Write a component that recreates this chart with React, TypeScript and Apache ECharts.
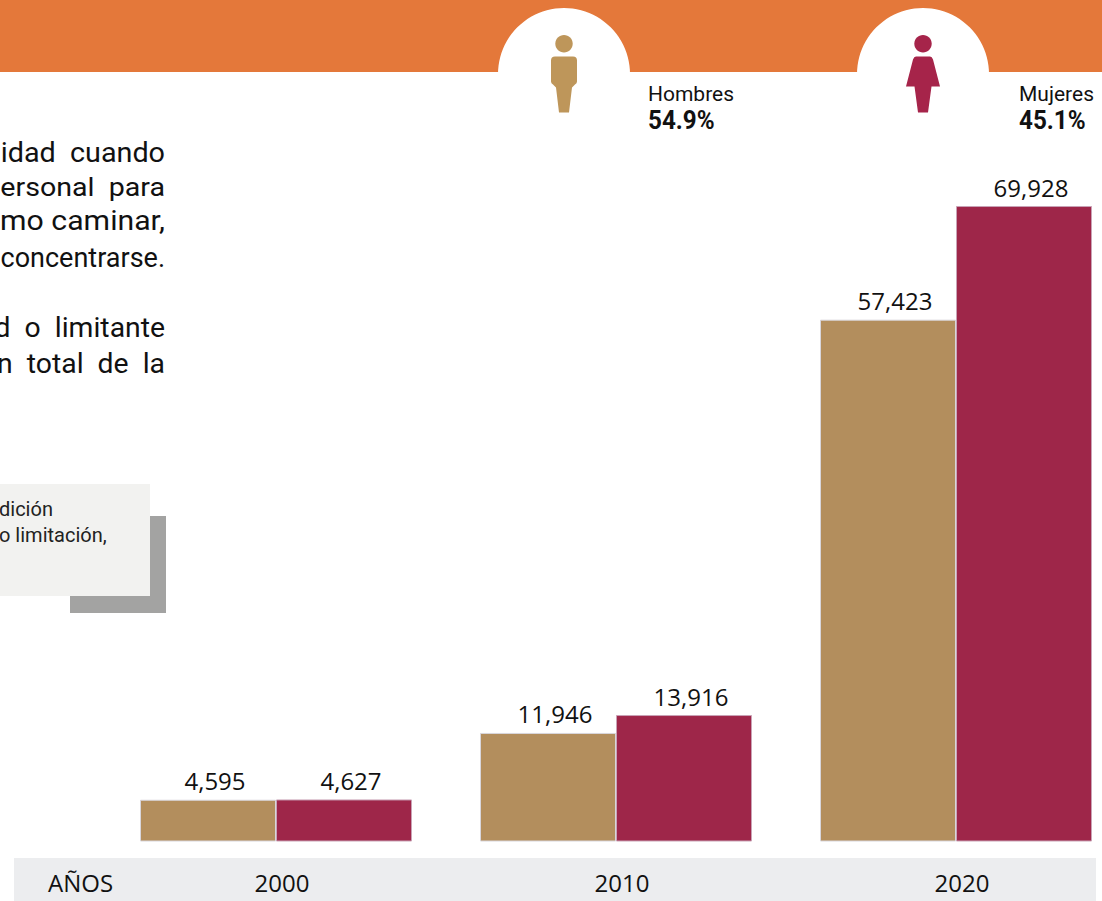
import React, { useEffect, useRef } from "react";
import * as echarts from "echarts";

const years = ["2000", "2010", "2020"];
const hombres = [4595, 11946, 57423];
const mujeres = [4627, 13916, 69928];
const bodyLines = [
  { t: "idad\u00a0\u00a0cuando", y: 153, s: 27, k: 1.065 },
  { t: "ersonal\u00a0\u00a0para", y: 187, s: 26, k: 1.1 },
  { t: "mo\u00a0caminar,", y: 221, s: 27, k: 1.12 },
  { t: "concentrarse.", y: 258, s: 27, k: 1 },
  { t: "d\u00a0\u00a0o\u00a0\u00a0limitante", y: 328, s: 27, k: 1.05 },
  { t: "n\u00a0\u00a0total\u00a0\u00a0de\u00a0\u00a0la", y: 364, s: 27, k: 1.05 },
];
const noteLines = [
  { t: "dición", y: 509 },
  { t: "o limitación,", y: 535 },
];

const manPath = "M4 0 H22 Q26 0 26 4 V25 Q26 27 24 28 L21 31 L18 56 H8 L5 31 L2 28 Q0 27 0 25 V4 Q0 0 4 0 Z";
const womanPath = "M10 0 H24 Q26 0 27 3 L34 30 H25.5 L22 56 H12 L8.5 30 H0 L7 3 Q8 0 10 0 Z";
echarts.graphic.registerShape("manBody", echarts.graphic.extendPath(manPath, {}));
echarts.graphic.registerShape("womanBody", echarts.graphic.extendPath(womanPath, {}));

const roboto = "Roboto, sans-serif";
const open = "'Open Sans', sans-serif";
const tan = "#B38E5D";
const maroon = "#9E2649";

export default function App() {
  const ref = useRef<HTMLDivElement>(null);
  useEffect(() => {
    const chart = echarts.init(ref.current!, null, { renderer: "svg" });
    const label = {
      show: true,
      position: "top" as const,
      distance: 7,
      offset: [7, 0],
      fontFamily: open,
      fontSize: 24,
      color: "#111",
      formatter: (p: any) => Number(p.value).toLocaleString("en-US"),
    };
    chart.setOption({
      animation: false,
      backgroundColor: "#fff",
      grid: { left: 106, width: 1020, top: 0, height: 841.5, outerBoundsMode: "none", containLabel: false },
      xAxis: {
        type: "category",
        data: years,
        axisLine: { show: false },
        axisTick: { show: false },
        axisLabel: {
          fontFamily: open,
          fontSize: 24,
          color: "#111",
          margin: 29,
          padding: [0, 0, 0, 12],
        },
      },
      yAxis: { type: "value", min: 0, max: 92600, show: false, splitLine: { show: false } },
      series: [
        {
          type: "bar",
          name: "Hombres",
          data: hombres,
          barWidth: 136,
          barGap: 0,
          z: 5,
          clip: false,
          itemStyle: { color: tan, borderColor: "#d8d6dc", borderWidth: 1 },
          label,
        },
        {
          type: "bar",
          name: "Mujeres",
          data: mujeres,
          barWidth: 136,
          barGap: 0,
          z: 5,
          clip: false,
          itemStyle: { color: maroon, borderColor: "#c9a3b6", borderWidth: 1 },
          label,
        },
      ],
      graphic: [
        { type: "rect", z: 0, shape: { x: 14, y: 858, width: 1082, height: 43 }, style: { fill: "#ECEDEF" } },
        { type: "text", z: 1, x: 48, y: 882, style: { text: "AÑOS", font: `24px ${open}`, fill: "#111", textVerticalAlign: "middle" } },
        { type: "rect", z: 0, shape: { x: 0, y: 0, width: 1102, height: 72 }, style: { fill: "#E4783A" } },
        { type: "circle", z: 1, shape: { cx: 564, cy: 74, r: 66 }, style: { fill: "#fff" } },
        { type: "circle", z: 1, shape: { cx: 923, cy: 74, r: 66 }, style: { fill: "#fff" } },
        { type: "ellipse", z: 2, shape: { cx: 564, cy: 43.7, rx: 8.7, ry: 8.7 }, style: { fill: "#BE965A" } },
        { type: "manBody", z: 2, x: 551, y: 56.5, style: { fill: "#BE965A" } },
        { type: "ellipse", z: 2, shape: { cx: 923, cy: 43.7, rx: 8.7, ry: 8.7 }, style: { fill: "#A6244A" } },
        { type: "womanBody", z: 2, x: 906, y: 56.5, style: { fill: "#A6244A" } },
        { type: "text", z: 3, x: 648, y: 94, style: { text: "Hombres", font: `21px ${roboto}`, fill: "#111", textVerticalAlign: "middle" } },
        { type: "text", z: 3, x: 648, y: 120, scaleX: 0.97, style: { text: "54.9%", font: `bold 25px ${roboto}`, fill: "#111", textVerticalAlign: "middle" } },
        { type: "text", z: 3, x: 1019, y: 94, style: { text: "Mujeres", font: `21px ${roboto}`, fill: "#111", textVerticalAlign: "middle" } },
        { type: "text", z: 3, x: 1019, y: 120, scaleX: 0.97, style: { text: "45.1%", font: `bold 25px ${roboto}`, fill: "#111", textVerticalAlign: "middle" } },
        ...bodyLines.map((l) => ({
          type: "text", z: 3, x: 165, y: l.y, scaleX: l.k,
          style: { text: l.t, font: `${l.s}px ${roboto}`, fill: "#111", textAlign: "right", textVerticalAlign: "middle" },
        })),
        { type: "rect", z: 1, shape: { x: 70, y: 516, width: 96, height: 97 }, style: { fill: "#A3A3A2" } },
        { type: "rect", z: 2, shape: { x: 0, y: 484, width: 150, height: 112 }, style: { fill: "#F2F2F0" } },
        ...noteLines.map((l) => ({
          type: "text", z: 3, x: -1, y: l.y,
          style: { text: l.t, font: `20px ${roboto}`, fill: "#222", textVerticalAlign: "middle" },
        })),
      ],
    });
    return () => chart.dispose();
  }, []);
  return <div ref={ref} style={{ position: "fixed", left: 0, top: 0, width: 1102, height: 901 }} />;
}
